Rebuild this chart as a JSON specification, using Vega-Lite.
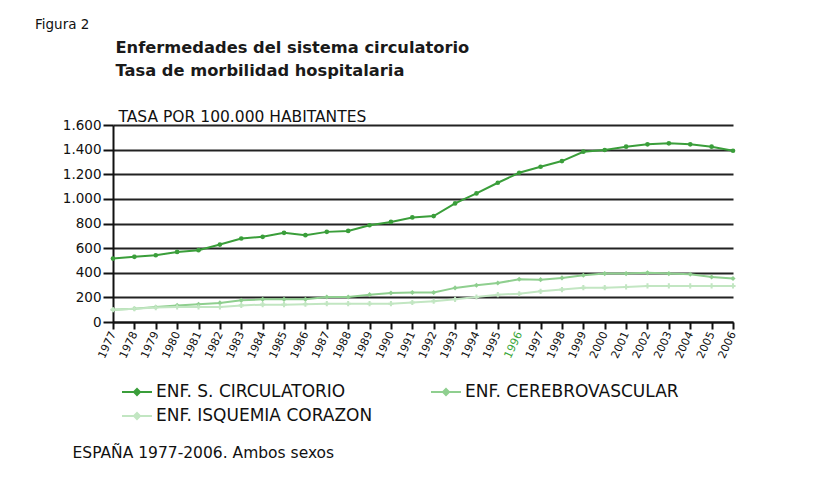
{
  "$schema": "https://vega.github.io/schema/vega-lite/v6.json",
  "width": 620,
  "height": 197,
  "autosize": {"type": "none"},
  "padding": {"left": 113, "top": 125, "right": 84, "bottom": 163},
  "background": "white",
  "title": {
    "text": "Figura 2",
    "anchor": "start",
    "frame": "group",
    "dx": -78,
    "fontSize": 13.5,
    "fontWeight": "normal",
    "font": "DejaVu Sans",
    "color": "#111",
    "offset": 8
  },
  "config": {
    "font": "DejaVu Sans",
    "view": {"stroke": null}
  },
  "datasets": {
    "rates": [
      {"year": 1977, "serie": "ENF. S. CIRCULATORIO", "value": 515},
      {"year": 1978, "serie": "ENF. S. CIRCULATORIO", "value": 529},
      {"year": 1979, "serie": "ENF. S. CIRCULATORIO", "value": 542},
      {"year": 1980, "serie": "ENF. S. CIRCULATORIO", "value": 569},
      {"year": 1981, "serie": "ENF. S. CIRCULATORIO", "value": 583},
      {"year": 1982, "serie": "ENF. S. CIRCULATORIO", "value": 629},
      {"year": 1983, "serie": "ENF. S. CIRCULATORIO", "value": 678},
      {"year": 1984, "serie": "ENF. S. CIRCULATORIO", "value": 692},
      {"year": 1985, "serie": "ENF. S. CIRCULATORIO", "value": 724},
      {"year": 1986, "serie": "ENF. S. CIRCULATORIO", "value": 705},
      {"year": 1987, "serie": "ENF. S. CIRCULATORIO", "value": 732},
      {"year": 1988, "serie": "ENF. S. CIRCULATORIO", "value": 740},
      {"year": 1989, "serie": "ENF. S. CIRCULATORIO", "value": 786},
      {"year": 1990, "serie": "ENF. S. CIRCULATORIO", "value": 813},
      {"year": 1991, "serie": "ENF. S. CIRCULATORIO", "value": 849},
      {"year": 1992, "serie": "ENF. S. CIRCULATORIO", "value": 860},
      {"year": 1993, "serie": "ENF. S. CIRCULATORIO", "value": 963},
      {"year": 1994, "serie": "ENF. S. CIRCULATORIO", "value": 1044},
      {"year": 1995, "serie": "ENF. S. CIRCULATORIO", "value": 1131},
      {"year": 1996, "serie": "ENF. S. CIRCULATORIO", "value": 1212},
      {"year": 1997, "serie": "ENF. S. CIRCULATORIO", "value": 1261},
      {"year": 1998, "serie": "ENF. S. CIRCULATORIO", "value": 1307},
      {"year": 1999, "serie": "ENF. S. CIRCULATORIO", "value": 1383},
      {"year": 2000, "serie": "ENF. S. CIRCULATORIO", "value": 1397},
      {"year": 2001, "serie": "ENF. S. CIRCULATORIO", "value": 1424},
      {"year": 2002, "serie": "ENF. S. CIRCULATORIO", "value": 1443},
      {"year": 2003, "serie": "ENF. S. CIRCULATORIO", "value": 1451},
      {"year": 2004, "serie": "ENF. S. CIRCULATORIO", "value": 1443},
      {"year": 2005, "serie": "ENF. S. CIRCULATORIO", "value": 1424},
      {"year": 2006, "serie": "ENF. S. CIRCULATORIO", "value": 1391},
      {"year": 1977, "serie": "ENF. CEREBROVASCULAR", "value": 100},
      {"year": 1978, "serie": "ENF. CEREBROVASCULAR", "value": 108},
      {"year": 1979, "serie": "ENF. CEREBROVASCULAR", "value": 122},
      {"year": 1980, "serie": "ENF. CEREBROVASCULAR", "value": 135},
      {"year": 1981, "serie": "ENF. CEREBROVASCULAR", "value": 144},
      {"year": 1982, "serie": "ENF. CEREBROVASCULAR", "value": 155},
      {"year": 1983, "serie": "ENF. CEREBROVASCULAR", "value": 176},
      {"year": 1984, "serie": "ENF. CEREBROVASCULAR", "value": 184},
      {"year": 1985, "serie": "ENF. CEREBROVASCULAR", "value": 184},
      {"year": 1986, "serie": "ENF. CEREBROVASCULAR", "value": 184},
      {"year": 1987, "serie": "ENF. CEREBROVASCULAR", "value": 203},
      {"year": 1988, "serie": "ENF. CEREBROVASCULAR", "value": 203},
      {"year": 1989, "serie": "ENF. CEREBROVASCULAR", "value": 222},
      {"year": 1990, "serie": "ENF. CEREBROVASCULAR", "value": 236},
      {"year": 1991, "serie": "ENF. CEREBROVASCULAR", "value": 239},
      {"year": 1992, "serie": "ENF. CEREBROVASCULAR", "value": 239},
      {"year": 1993, "serie": "ENF. CEREBROVASCULAR", "value": 277},
      {"year": 1994, "serie": "ENF. CEREBROVASCULAR", "value": 298},
      {"year": 1995, "serie": "ENF. CEREBROVASCULAR", "value": 317},
      {"year": 1996, "serie": "ENF. CEREBROVASCULAR", "value": 347},
      {"year": 1997, "serie": "ENF. CEREBROVASCULAR", "value": 344},
      {"year": 1998, "serie": "ENF. CEREBROVASCULAR", "value": 358},
      {"year": 1999, "serie": "ENF. CEREBROVASCULAR", "value": 380},
      {"year": 2000, "serie": "ENF. CEREBROVASCULAR", "value": 393},
      {"year": 2001, "serie": "ENF. CEREBROVASCULAR", "value": 393},
      {"year": 2002, "serie": "ENF. CEREBROVASCULAR", "value": 399},
      {"year": 2003, "serie": "ENF. CEREBROVASCULAR", "value": 393},
      {"year": 2004, "serie": "ENF. CEREBROVASCULAR", "value": 388},
      {"year": 2005, "serie": "ENF. CEREBROVASCULAR", "value": 366},
      {"year": 2006, "serie": "ENF. CEREBROVASCULAR", "value": 353},
      {"year": 1977, "serie": "ENF. ISQUEMIA CORAZON", "value": 100},
      {"year": 1978, "serie": "ENF. ISQUEMIA CORAZON", "value": 108},
      {"year": 1979, "serie": "ENF. ISQUEMIA CORAZON", "value": 117},
      {"year": 1980, "serie": "ENF. ISQUEMIA CORAZON", "value": 122},
      {"year": 1981, "serie": "ENF. ISQUEMIA CORAZON", "value": 122},
      {"year": 1982, "serie": "ENF. ISQUEMIA CORAZON", "value": 122},
      {"year": 1983, "serie": "ENF. ISQUEMIA CORAZON", "value": 135},
      {"year": 1984, "serie": "ENF. ISQUEMIA CORAZON", "value": 141},
      {"year": 1985, "serie": "ENF. ISQUEMIA CORAZON", "value": 141},
      {"year": 1986, "serie": "ENF. ISQUEMIA CORAZON", "value": 144},
      {"year": 1987, "serie": "ENF. ISQUEMIA CORAZON", "value": 149},
      {"year": 1988, "serie": "ENF. ISQUEMIA CORAZON", "value": 149},
      {"year": 1989, "serie": "ENF. ISQUEMIA CORAZON", "value": 149},
      {"year": 1990, "serie": "ENF. ISQUEMIA CORAZON", "value": 149},
      {"year": 1991, "serie": "ENF. ISQUEMIA CORAZON", "value": 158},
      {"year": 1992, "serie": "ENF. ISQUEMIA CORAZON", "value": 168},
      {"year": 1993, "serie": "ENF. ISQUEMIA CORAZON", "value": 184},
      {"year": 1994, "serie": "ENF. ISQUEMIA CORAZON", "value": 203},
      {"year": 1995, "serie": "ENF. ISQUEMIA CORAZON", "value": 222},
      {"year": 1996, "serie": "ENF. ISQUEMIA CORAZON", "value": 230},
      {"year": 1997, "serie": "ENF. ISQUEMIA CORAZON", "value": 249},
      {"year": 1998, "serie": "ENF. ISQUEMIA CORAZON", "value": 263},
      {"year": 1999, "serie": "ENF. ISQUEMIA CORAZON", "value": 279},
      {"year": 2000, "serie": "ENF. ISQUEMIA CORAZON", "value": 279},
      {"year": 2001, "serie": "ENF. ISQUEMIA CORAZON", "value": 285},
      {"year": 2002, "serie": "ENF. ISQUEMIA CORAZON", "value": 293},
      {"year": 2003, "serie": "ENF. ISQUEMIA CORAZON", "value": 293},
      {"year": 2004, "serie": "ENF. ISQUEMIA CORAZON", "value": 293},
      {"year": 2005, "serie": "ENF. ISQUEMIA CORAZON", "value": 293},
      {"year": 2006, "serie": "ENF. ISQUEMIA CORAZON", "value": 293}
    ]
  },
  "data": {"name": "rates"},
  "resolve": {"axis": {"y": "independent"}},
  "layer": [
    {
      "mark": {"type": "line", "strokeWidth": 2},
      "encoding": {
        "x": {
          "field": "year",
          "type": "ordinal",
          "scale": {"type": "point", "padding": 0},
          "axis": {
            "title": "ESPAÑA 1977-2006. Ambos sexos",
            "titleX": -41,
            "titleY": 130,
            "titleAlign": "left",
            "titleAnchor": null,
            "titleBaseline": "middle",
            "titleFontSize": 15.5,
            "titleFontWeight": "normal",
            "titleColor": "#111",
            "labelAngle": -65,
            "labelAlign": "right",
            "labelBaseline": "middle",
            "labelFontSize": 11,
            "labelPadding": 3,
            "labelColor": {"condition": {"test": "datum.value == 1996", "value": "#3aa63a"}, "value": "#111"},
            "tickColor": "#111",
            "tickWidth": 2,
            "tickSize": 7,
            "domainColor": "#111",
            "domainWidth": 2,
            "grid": false
          }
        },
        "y": {
          "field": "value",
          "type": "quantitative",
          "scale": {"domain": [0, 1600], "nice": false, "zero": true},
          "axis": {
            "title": "TASA POR 100.000 HABITANTES",
            "titleAngle": 0,
            "titleX": 5,
            "titleY": -9,
            "titleAlign": "left",
            "titleAnchor": null,
            "titleBaseline": "middle",
            "titleFontSize": 15.5,
            "titleFontWeight": "normal",
            "titleColor": "#111",
            "values": [0, 200, 400, 600, 800, 1000, 1200, 1400, 1600],
            "labelExpr": "replace(format(datum.value, ','), ',', '.')",
            "labelFontSize": 13.5,
            "labelColor": "#111",
            "labelPadding": 2,
            "tickColor": "#111",
            "tickWidth": 2,
            "tickSize": 10,
            "domainColor": "#111",
            "domainWidth": 2,
            "grid": true,
            "gridColor": "#222",
            "gridWidth": 2
          }
        },
        "color": {
          "field": "serie",
          "type": "nominal",
          "scale": {
            "domain": ["ENF. S. CIRCULATORIO", "ENF. CEREBROVASCULAR", "ENF. ISQUEMIA CORAZON"],
            "range": ["#3a9e3a", "#8fcf8f", "#c2e6c2"]
          },
          "legend": {
            "title": null,
            "orient": "none",
            "legendX": 8,
            "legendY": 251,
            "direction": "horizontal",
            "columns": 2,
            "columnPadding": 54,
            "rowPadding": 0,
            "symbolType": "M-1,0H1M-0.2,0L0,-0.2L0.2,0L0,0.2Z",
            "symbolSize": 900,
            "symbolStrokeWidth": 2,
            "labelFontSize": 17,
            "labelColor": "#111",
            "labelOffset": 3,
            "labelLimit": 400,
            "encode": {"symbols": {"update": {"fill": {"scale": "color", "field": "value"}}}}
          }
        }
      }
    },
    {
      "encoding": {
        "x": {"field": "year", "type": "ordinal"},
        "y": {
          "field": "value",
          "type": "quantitative",
          "axis": {
            "orient": "right",
            "title": ["Enfermedades del sistema circulatorio", "Tasa de morbilidad hospitalaria"],
            "titleAngle": 0,
            "titleX": -618,
            "titleY": -86,
            "titleAlign": "left",
            "titleAnchor": null,
            "titleBaseline": "top",
            "titleFontSize": 16.3,
            "titleFontWeight": "bold",
            "titleLineHeight": 23,
            "titleColor": "#1a1a1a",
            "labels": false,
            "ticks": false,
            "domain": false,
            "grid": false
          }
        }
      },
      "layer": [
        {
          "transform": [{"filter": "datum.serie == 'ENF. S. CIRCULATORIO'"}],
          "mark": {"type": "point", "shape": "circle", "filled": true, "size": 22, "opacity": 1, "color": "#3a9e3a"}
        },
        {
          "transform": [{"filter": "datum.serie == 'ENF. CEREBROVASCULAR'"}],
          "mark": {"type": "point", "shape": "diamond", "filled": true, "size": 26, "opacity": 1, "color": "#8fcf8f"}
        },
        {
          "transform": [{"filter": "datum.serie == 'ENF. ISQUEMIA CORAZON'"}],
          "mark": {"type": "point", "shape": "cross", "filled": true, "size": 26, "opacity": 1, "color": "#c2e6c2"}
        }
      ]
    }
  ]
}
